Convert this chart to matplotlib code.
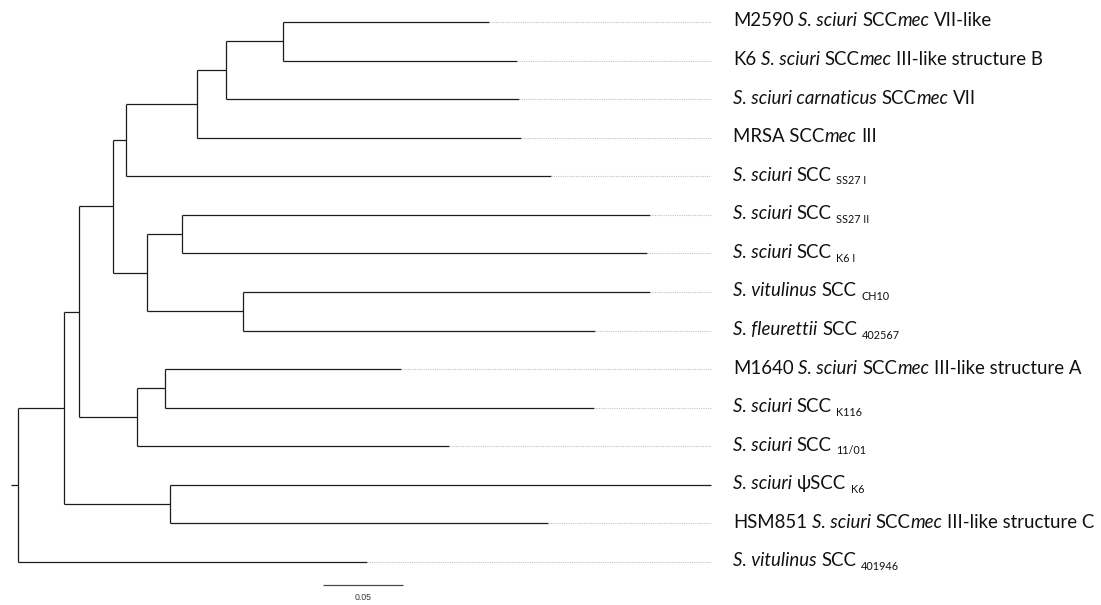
import matplotlib
matplotlib.use("Agg")
import matplotlib.pyplot as plt
from matplotlib.transforms import offset_copy

# ---- tree data -------------------------------------------------------------
# leaves, top to bottom; each label is a list of (text, style) segments
# style: 'n' = roman, 'i' = italic, 's' = subscript
leaf_labels = [
    [("M2590 ", "n"), ("S. sciuri", "i"), (" SCC", "n"), ("mec", "i"), (" VII-like", "n")],
    [("K6 ", "n"), ("S. sciuri", "i"), (" SCC", "n"), ("mec", "i"), (" III-like structure B", "n")],
    [("S. sciuri carnaticus", "i"), (" SCC", "n"), ("mec", "i"), (" VII", "n")],
    [("MRSA SCC", "n"), ("mec", "i"), (" III", "n")],
    [("S. sciuri", "i"), (" SCC", "n"), (" SS27 I", "s")],
    [("S. sciuri", "i"), (" SCC", "n"), (" SS27 II", "s")],
    [("S. sciuri", "i"), (" SCC", "n"), (" K6 I", "s")],
    [("S. vitulinus", "i"), (" SCC", "n"), (" CH10", "s")],
    [("S. fleurettii", "i"), (" SCC", "n"), (" 402567", "s")],
    [("M1640 ", "n"), ("S. sciuri", "i"), (" SCC", "n"), ("mec", "i"), (" III-like structure A", "n")],
    [("S. sciuri", "i"), (" SCC", "n"), (" K116", "s")],
    [("S. sciuri", "i"), (" SCC", "n"), (" 11/01", "s")],
    [("S. sciuri", "i"), (" \u03c8SCC", "n"), (" K6", "s")],
    [("HSM851 ", "n"), ("S. sciuri", "i"), (" SCC", "n"), ("mec", "i"), (" III-like structure C", "n")],
    [("S. vitulinus", "i"), (" SCC", "n"), (" 401946", "s")],
]

# distance of every leaf from the root (substitutions per site)
leaf_depth = [0.2948, 0.3119, 0.3135, 0.3144, 0.3335, 0.3952, 0.3931, 0.3952,
              0.3610, 0.2394, 0.3602, 0.2694, 0.4331, 0.3316, 0.2185]

# internal nodes: name, children (leaf index or node name), distance from root
node_names = ["G", "F", "E", "D", "I", "J", "H", "C", "L", "K", "B", "M", "A", "R"]
node_children = [
    [0, 1], ["G", 2], ["F", 3], ["E", 4],
    [5, 6], [7, 8], ["I", "J"], ["D", "H"],
    [9, 10], ["L", 11], ["C", "K"], [12, 13],
    ["B", "M"], ["A", 14],
]
node_depth = [0.1660, 0.1304, 0.1119, 0.0677, 0.1027, 0.1408, 0.0808, 0.0594,
              0.0919, 0.0744, 0.0381, 0.0950, 0.0289, 0.0]

root_stub = 0.0044
scale_length = 0.05
scale_label = "0.05"

# ---- layout ----------------------------------------------------------------
W, H, DPI = 1101, 605, 100
X0_PX, PX_PER_UNIT = 17.7, 1600.0
Y0_PX, ROW_PX = 22.0, 38.571

fig = plt.figure(figsize=(W / DPI, H / DPI), dpi=DPI)
ax = fig.add_axes([0, 0, 1, 1])
ax.set_xlim(-X0_PX / PX_PER_UNIT, (W - X0_PX) / PX_PER_UNIT)
ax.set_ylim((H - Y0_PX) / ROW_PX, -Y0_PX / ROW_PX)
ax.axis("off")

LINE_KW = dict(color="#1c1c1c", lw=0.9, solid_capstyle="butt")

# positions of every node
pos = {}
for i, d in enumerate(leaf_depth):
    pos[i] = (d, float(i))
for name, kids, d in zip(node_names, node_children, node_depth):
    ys = [pos[k][1] for k in kids]
    pos[name] = (d, (ys[0] + ys[-1]) / 2.0)

# branches (rectangular cladogram)
for name, kids, d in zip(node_names, node_children, node_depth):
    ys = [pos[k][1] for k in kids]
    ax.plot([d, d], [min(ys), max(ys)], **LINE_KW)
    for k in kids:
        cx, cy = pos[k]
        ax.plot([d, cx], [cy, cy], **LINE_KW)

# root stub
rx, ry = pos["R"]
ax.plot([rx - root_stub, rx], [ry, ry], **LINE_KW)

# dotted leaders aligning the tips
tip_max = max(leaf_depth)
for i, d in enumerate(leaf_depth):
    if d < tip_max:
        ax.plot([d, tip_max], [i, i], color="#c2c2c2", lw=0.8,
                linestyle=(0, (1, 1)))

# ---- labels ----------------------------------------------------------------
FAMILY = ["Lato", "DejaVu Sans"]
MAIN_SIZE, SUB_SIZE = 13.4, 7.8
label_x = tip_max + 22.3 / PX_PER_UNIT
renderer = fig.canvas.get_renderer()
px2pt = 72.0 / DPI

probe_a = ax.text(0, 0, "xx", fontsize=MAIN_SIZE, family=FAMILY)
probe_b = ax.text(0, 0, "x x", fontsize=MAIN_SIZE, family=FAMILY)
space_px = (probe_b.get_window_extent(renderer).width
            - probe_a.get_window_extent(renderer).width)
probe_a.remove()
probe_b.remove()

BASE_DROP_PX = 4.5     # baseline sits a little below the branch line
SUB_DROP_PX = 3.7      # extra drop of the subscript

for i, segments in enumerate(leaf_labels):
    x_px = 0.0
    for text, style in segments:
        n_lead = len(text) - len(text.lstrip(" "))
        x_px += n_lead * space_px
        body = text.strip(" ")
        size = SUB_SIZE if style == "s" else MAIN_SIZE
        fstyle = "italic" if style == "i" else "normal"
        drop = BASE_DROP_PX + (SUB_DROP_PX if style == "s" else 0.0)
        tr = offset_copy(ax.transData, fig=fig, x=x_px * px2pt,
                         y=-drop * px2pt, units="points")
        t = ax.text(label_x, i, body, transform=tr, fontsize=size,
                    fontstyle=fstyle, family=FAMILY, color="#111111",
                    ha="left", va="baseline")
        x_px += t.get_window_extent(renderer).width
        n_trail = len(text) - len(text.rstrip(" "))
        x_px += n_trail * space_px

# ---- scale bar -------------------------------------------------------------
sb_x = (322.7 - X0_PX) / PX_PER_UNIT
sb_y = (585.3 - Y0_PX) / ROW_PX
ax.plot([sb_x, sb_x + scale_length], [sb_y, sb_y], color="#4a4a4a", lw=0.9,
        solid_capstyle="butt")
ax.text(sb_x + scale_length / 2, (598.0 - Y0_PX) / ROW_PX, scale_label,
        fontsize=6.3, family=["Liberation Sans", "DejaVu Sans"], color="#333333",
        ha="center", va="center")

fig.savefig("out.png", dpi=DPI, facecolor="white")
